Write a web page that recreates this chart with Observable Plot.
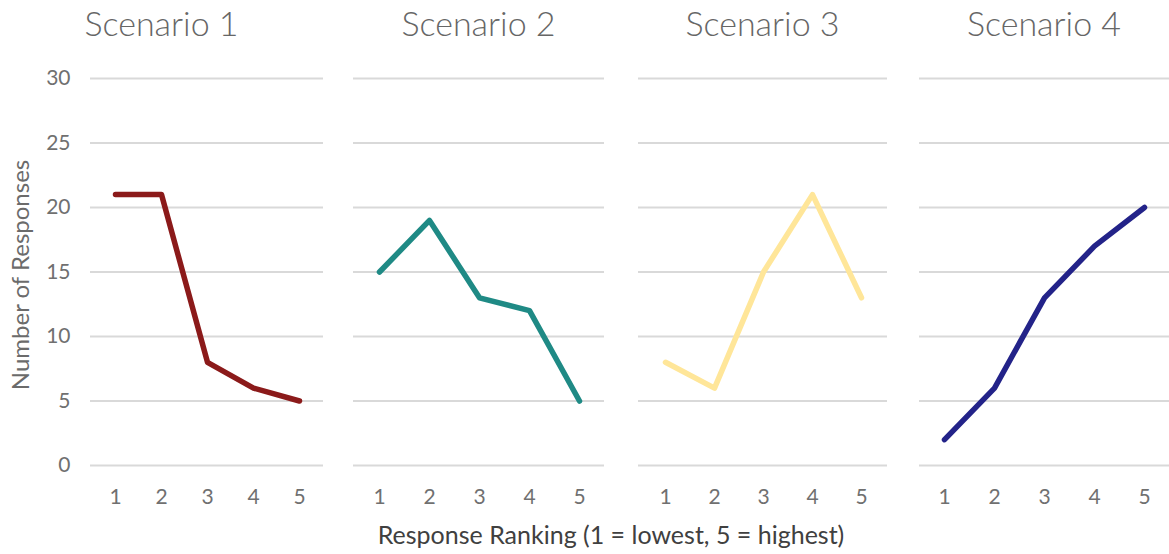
<!DOCTYPE html>
<html>
<head>
<meta charset="utf-8">
<script src="https://cdn.jsdelivr.net/npm/d3@7"></script>
<script src="https://cdn.jsdelivr.net/npm/@observablehq/plot@0.6"></script>
<style>
  html, body { margin: 0; padding: 0; background: #fff; }
  #chart { position: relative; width: 1169px; height: 554px; overflow: hidden; font-family: Lato, "Open Sans", sans-serif; }
  .panel { position: absolute; top: 60px; }
  .title { position: absolute; top: 3px; height: 40px; line-height: 40px; text-align: center; font-size: 34px; font-weight: 300; color: #666666; white-space: nowrap; }
  .xlabel { position: absolute; left: 211px; width: 800px; top: 519px; line-height: 30px; text-align: center; font-size: 25px; color: #404040; white-space: nowrap; }
  .ylabel { position: absolute; left: 20px; top: 275px; transform: translate(-50%, -50%) rotate(-90deg); font-size: 24px; color: #6b6b6b; white-space: nowrap; line-height: 26px; }
</style>
</head>
<body>
<div id="chart"></div>
<script>
const rankings = [1, 2, 3, 4, 5];
const scenarios = ["Scenario 1", "Scenario 2", "Scenario 3", "Scenario 4"];
const scenario1 = [21, 21, 8, 6, 5];
const scenario2 = [15, 19, 13, 12, 5];
const scenario3 = [8, 6, 15, 21, 13];
const scenario4 = [2, 6, 13, 17, 20];
const seriesColors = ["#8b1a1a", "#1f8a85", "#ffe699", "#232389"];
const yTicks = [0, 5, 10, 15, 20, 25, 30];
const yTitle = "Number of Responses";
const xTitle = "Response Ranking (1 = lowest, 5 = highest)";

const series = [scenario1, scenario2, scenario3, scenario4];
// panel placement: [left, width, marginLeft]
const panels = [[0, 323, 90], [353, 251, 0], [638, 249, 0], [919, 250, 0]];

const chart = document.getElementById("chart");
const font = "Lato, 'Open Sans', sans-serif";

series.forEach((vals, i) => {
  const [left, width, ml] = panels[i];
  const data = rankings.map((r, j) => ({rank: r, value: vals[j]}));
  const marks = [
    Plot.ruleY(yTicks, {stroke: "#d9d9d9", strokeWidth: 2}),
    Plot.axisX({tickSize: 0, tickPadding: 24, fontSize: 21, fill: "#707070", label: null}),
    Plot.line(data, {x: "rank", y: "value", stroke: seriesColors[i], strokeWidth: 5.5, strokeLinejoin: "round", strokeLinecap: "round"})
  ];
  if (i === 0) marks.push(Plot.axisY({ticks: yTicks, tickSize: 0, tickPadding: 20, fontSize: 21, fill: "#707070", label: null}));
  const svg = Plot.plot({
    width, height: 460,
    marginLeft: ml, marginRight: 0, marginTop: 18, marginBottom: 55,
    style: {fontFamily: font, background: "transparent", overflow: "visible"},
    x: {type: "point", domain: rankings, padding: 0.5, axis: null},
    y: {domain: [0, 30], axis: null},
    marks
  });
  const wrap = document.createElement("div");
  wrap.className = "panel";
  wrap.style.left = left + "px";
  wrap.appendChild(svg);
  chart.appendChild(wrap);

  const t = document.createElement("div");
  t.className = "title";
  t.style.left = left + "px";
  t.style.width = width + "px";
  t.textContent = scenarios[i];
  chart.appendChild(t);
});

const xl = document.createElement("div");
xl.className = "xlabel";
xl.textContent = xTitle;
chart.appendChild(xl);

const yl = document.createElement("div");
yl.className = "ylabel";
yl.textContent = yTitle;
chart.appendChild(yl);
</script>
</body>
</html>
